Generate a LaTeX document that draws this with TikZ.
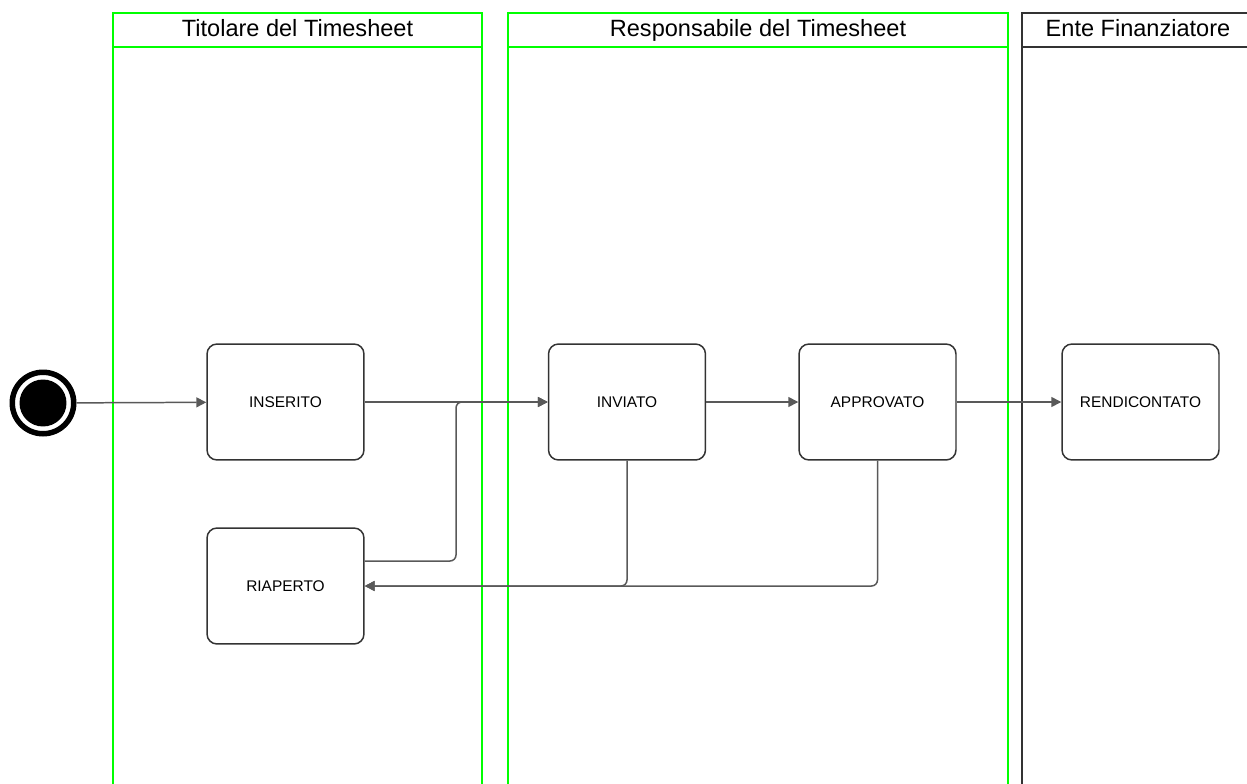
\documentclass[tikz,border=0pt]{standalone}
\usepackage{fontspec}
\setmainfont{Liberation Sans}
\usetikzlibrary{arrows.meta}

\begin{document}
\begin{tikzpicture}[x=0.02cm,y=-0.02cm,line width=0.85pt,>={Triangle[length=2mm,width=2mm]},
  lane/.style={draw=green,line width=1.2pt},
  laneente/.style={draw=black!80,line width=1.2pt},
  lanetitolo/.style={anchor=base,font=\fontsize{13.4}{16}\selectfont},
  stato/.style={draw=black!80,line width=0.85pt,rounded corners=2mm,minimum width=3.14cm,minimum height=2.32cm,inner sep=0pt,font=\fontsize{8.8}{10}\selectfont},
  freccia/.style={->,draw=black!65,rounded corners=1.2mm}]
  \useasboundingbox (0,0) rectangle (1247,784);
  % corsie
  \draw[lane] (113,13) rectangle (482,800) (113,47) -- (482,47);
  \draw[lane] (508,13) rectangle (1008,800) (508,47) -- (1008,47);
  \draw[laneente] (1022,13) rectangle (1254,800) (1022,47) -- (1254,47);
  \node[lanetitolo] (titolare) at (297.5,37) {Titolare del Timesheet};
  \node[lanetitolo] (responsabile) at (758,37) {Responsabile del Timesheet};
  \node[lanetitolo] (ente) at (1138,37) {Ente Finanziatore};
  % stato iniziale
  \node[circle,draw=black,line width=0.11cm,minimum size=1.23cm,inner sep=0pt] (inizio) at (43,403) {};
  \node[circle,fill=black,minimum size=0.94cm,inner sep=0pt] (inizioc) at (43,403) {};
  % stati
  \node[stato] (inserito) at (285.5,402) {INSERITO};
  \node[stato] (riaperto) at (285.5,586) {RIAPERTO};
  \node[stato] (inviato) at (627,402) {INVIATO};
  \node[stato] (approvato) at (877.5,402) {APPROVATO};
  \node[stato] (rendicontato) at (1140.5,402) {RENDICONTATO};
  % transizioni
  \draw[freccia] (inizio) -- (inserito);
  \draw[freccia] (inserito) -- (inviato);
  \draw[freccia] (inviato) -- (approvato);
  \draw[freccia] (approvato) -- (rendicontato);
  \draw[freccia] ([yshift=0.5cm]riaperto.east) -- (456,561) -- (456,402) -- (inviato.west);
  \draw[freccia] (inviato.south) |- (riaperto.east);
  \draw[freccia] (approvato.south) |- (riaperto.east);
\end{tikzpicture}
\end{document}
